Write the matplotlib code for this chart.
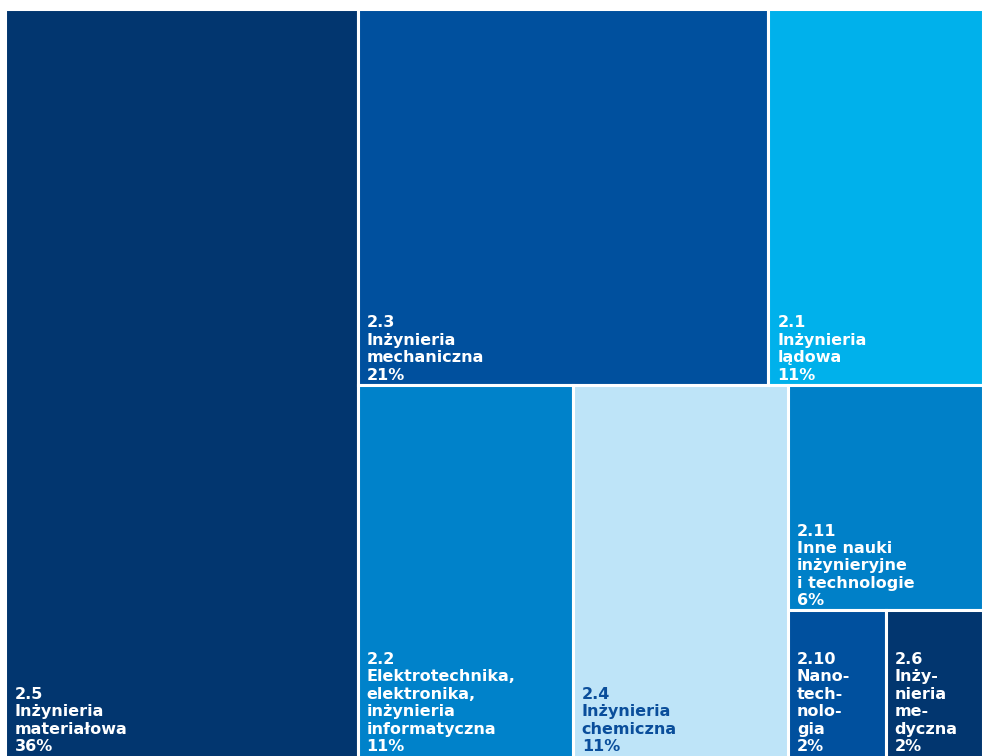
import matplotlib
matplotlib.use("Agg")
import matplotlib.pyplot as plt
from matplotlib.patches import Rectangle

# Discipline shares (%)
codes = ["2.5", "2.3", "2.1", "2.2", "2.4", "2.11", "2.10", "2.6"]
names = [
    "Inżynieria\nmateriałowa",
    "Inżynieria\nmechaniczna",
    "Inżynieria\nlądowa",
    "Elektrotechnika,\nelektronika,\ninżynieria\ninformatyczna",
    "Inżynieria\nchemiczna",
    "Inne nauki\ninżynieryjne\ni technologie",
    "Nano-\ntech-\nnolo-\ngia",
    "Inży-\nnieria\nme-\ndyczna",
]
shares = [36, 21, 11, 11, 11, 6, 2, 2]
colors = ["#02366f", "#00509e", "#00b1eb", "#0082ca", "#bee4f8",
          "#0080c8", "#00509e", "#02366f"]
text_colors = ["white", "white", "white", "white", "#0a4e9b",
               "white", "white", "white"]

# Nesting of the tiles: ("h", ...) splits horizontally, ("v", ...) vertically
layout = ("h", 0, ("v", ("h", 1, 2), ("h", 3, 4, ("v", 5, ("h", 6, 7)))))


def total(node):
    if isinstance(node, int):
        return shares[node]
    return sum(total(c) for c in node[1:])


def place(node, x, y, w, h, out):
    if isinstance(node, int):
        out[node] = (x, y, w, h)
        return
    direction, children = node[0], node[1:]
    s = sum(total(c) for c in children)
    for c in children:
        frac = total(c) / s
        if direction == "h":
            place(c, x, y, w * frac, h, out)
            x += w * frac
        else:
            place(c, x, y, w, h * frac, out)
            y += h * frac


fig = plt.figure(figsize=(9.82, 7.56), dpi=100)
ax = fig.add_axes([0, 0, 1, 1])
ax.set_xlim(0, 982)
ax.set_ylim(756, 0)
ax.axis("off")

rects = {}
place(layout, 5.5, 8.5, 978, 752, rects)

for i in range(len(shares)):
    x, y, w, h = rects[i]
    ax.add_patch(Rectangle((x, y), w, h, facecolor=colors[i],
                           edgecolor="white", linewidth=2.2))
    label = f"{codes[i]}\n{names[i]}\n{shares[i]}%"
    ax.text(x + 9, min(y + h, 756) - 2, label, ha="left", va="bottom",
            color=text_colors[i], fontsize=11.5, fontweight="bold",
            family=["DejaVu Sans"], linespacing=1.2)

fig.savefig("out.png", dpi=100)
